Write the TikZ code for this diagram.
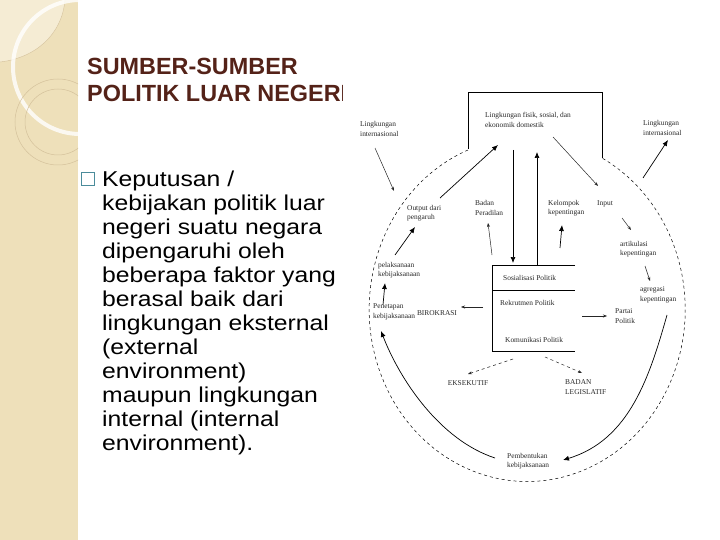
\documentclass[tikz,border=0pt]{standalone}
\usepackage{fontspec}
\setmainfont{Liberation Sans}
\newfontfamily\bodyfont[FakeStretch=1.15]{Liberation Sans}
\newfontfamily\figfont{Liberation Serif}
\usepackage{tikz}
\usetikzlibrary{arrows.meta}

\definecolor{strip}{RGB}{238,224,186}
\definecolor{stripl}{RGB}{245,236,212}
\definecolor{ring}{RGB}{212,193,155}
\definecolor{titlebrown}{RGB}{84,34,24}
\definecolor{boxteal}{RGB}{75,140,155}

\begin{document}
\begin{tikzpicture}[x=1pt,y=-1pt,
  lbl/.style={font=\figfont\fontsize{7.4}{9.5}\selectfont, text=black!85, align=left, inner sep=0pt, anchor=west},
  thinarr/.style={-{Stealth[length=4pt,width=3pt]}, black!85, line width=0.5pt},
  boldarr/.style={-{Latex[length=6pt,width=5pt]}, black, line width=0.7pt},
  dasharr/.style={thinarr, dashed}]
  \useasboundingbox (0,0) rectangle (720,540);
  % side strip
  \fill[strip] (0,0) rectangle (78,540);
  \begin{scope}
    \clip (0,0) rectangle (78,540);
    \fill[stripl] (0,0) -- (65,0) .. controls (62,35) and (35,58) .. (0,62) -- cycle;
    \draw[ring, line width=0.4pt] (65,0) .. controls (62,35) and (35,58) .. (0,62);
    \draw[white, line width=4pt, opacity=0.8] (80,67) circle (67);
    \draw[ring, line width=0.5pt] (58,122) circle (43);
    \draw[ring, line width=0.5pt] (58,122) circle (33);
  \end{scope}
  % title and text (base = last line)
  \node[anchor=base west, inner sep=0pt, align=left, text=titlebrown,
    font=\bfseries\fontsize{23.4}{26.7}\selectfont] (title) at (87,101.7)
    {SUMBER-SUMBER\\POLITIK LUAR NEGERI};
  \draw[boxteal, line width=1.3pt] (81.5,172.5) rectangle (94.5,185.5);
  \node[anchor=base west, inner sep=0pt, align=left,
    font=\bodyfont\fontsize{21.5}{24}\selectfont] (body) at (102,450)
    {Keputusan /\\kebijakan politik luar\\negeri suatu negara\\dipengaruhi oleh\\beberapa faktor yang\\berasal baik dari\\lingkungan eksternal\\(external\\environment)\\maupun lingkungan\\internal (internal\\environment).};
  % diagram canvas
  \fill[white] (343,84) rectangle (720,540);
  % frame of the domestic environment
  \draw[line width=0.7pt] (468,149) -- (468,92) -- (602,92) -- (602,158);
  \draw[dashed, line width=0.5pt] (468,150) arc[start angle=248, end angle=-61.7, x radius=158, y radius=172];
  % political system box
  \draw[line width=0.6pt] (575,265) -- (492,265) -- (492,351) -- (575,351);
  \draw[line width=0.6pt] (492,290) -- (575,290);
  \node[lbl] (sos) at (503,278) {Sosialisasi Politik};
  \node[lbl] (rek) at (500,303) {Rekrutmen Politik};
  \node[lbl] (kom) at (505,340) {Komunikasi Politik};
  % labels
  \node[lbl] (linta) at (360,129) {Lingkungan\\internasional};
  \node[lbl] (dom) at (485,120) {Lingkungan fisik, sosial, dan\\ekonomik domestik};
  \node[lbl] (rinta) at (643,128) {Lingkungan\\internasional};
  \node[lbl] (outp) at (407,213) {Output dari\\pengaruh};
  \node[lbl] (perad) at (475,208) {Badan\\Peradilan};
  \node[lbl] (kelp) at (548,208) {Kelompok\\kepentingan};
  \node[lbl] (inp) at (597,204) {Input};
  \node[lbl] (artk) at (620,249) {artikulasi\\kepentingan};
  \node[lbl] (agrg) at (640,295) {agregasi\\kepentingan};
  \node[lbl] (part) at (615,316) {Partai\\Politik};
  \node[lbl] (pelk) at (378,270) {pelaksanaan\\kebijaksanaan};
  \node[lbl] (pent) at (373,312) {Penetapan\\kebijaksanaan};
  \node[lbl, anchor=center] (biro) at (437,313) {BIROKRASI};
  \node[lbl, anchor=center] (eks) at (468,383) {EKSEKUTIF};
  \node[lbl] (legs) at (565,387) {BADAN\\LEGISLATIF};
  \node[lbl] (pemb) at (507,461) {Pembentukan\\kebijaksanaan};
  % arrow ends
  \coordinate (lintaE) at (394,191);
  \coordinate (outpS) at (440,198);
  \coordinate (domIn) at (498,145);
  \coordinate (domDn) at (513,150);
  \coordinate (sosUp) at (537,265);
  \coordinate (domUp) at (537,152);
  \coordinate (sosTop) at (513,263);
  \coordinate (domS) at (553,137);
  \coordinate (inpE) at (598,186);
  \coordinate (rintaS) at (643,178);
  \coordinate (rintaE) at (668,140);
  % connectors
  \draw[thinarr] (375,148) -- (lintaE);
  \draw[boldarr] (outpS) -- (domIn);
  \draw[boldarr] (domDn) -- (sosTop);
  \draw[boldarr] (sosUp) -- (domUp);
  \draw[thinarr] (domS) -- (inpE);
  \draw[boldarr] (rintaS) -- (rintaE);
  \draw[thinarr] (622,218) -- (631,230);
  \draw[thinarr] (645,266) -- (650,281);
  \draw[boldarr] (667,315) .. controls (650,375) and (630,440) .. (563,460);
  \draw[boldarr] (495,458) .. controls (440,440) and (400,380) .. (381,331);
  \draw[boldarr] (383,305) -- (385,283);
  \draw[boldarr] (395,255) -- (415,227);
  \draw[thinarr] (492,255) -- (488,223);
  \draw[boldarr] (560,248) -- (562,225);
  \draw[thinarr] (483,307) -- (461,307);
  \draw[thinarr] (582,316) -- (607,316);
  \draw[dasharr] (513,359) -- (468,374);
  \draw[dasharr] (545,357) -- (582,373);
\end{tikzpicture}
\end{document}
